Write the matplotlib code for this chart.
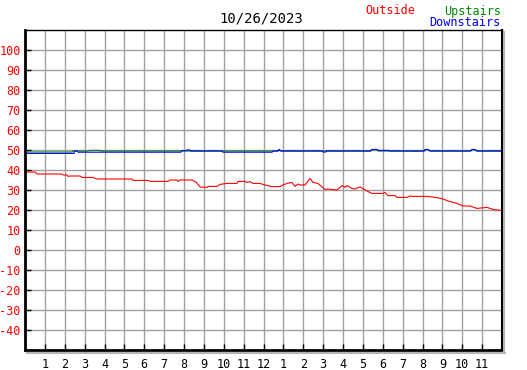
import numpy as np
import matplotlib
matplotlib.use("Agg")
import matplotlib.pyplot as plt
from matplotlib.lines import Line2D

# readings for 10/26/2023, time in hours from midnight
outside_t = [0.00, 0.50, 0.60, 1.86, 1.91, 2.11, 2.16, 2.26, 2.77, 2.87, 3.42, 3.62, 5.38, 5.43,
             6.19, 6.29, 7.19, 7.30, 7.65, 7.70, 7.80, 8.40, 8.60, 8.81, 9.16, 9.21, 9.66, 9.81,
             10.16, 10.67, 10.72, 11.07, 11.17, 11.32, 11.47, 11.82, 12.08, 12.43, 12.83, 12.98,
             13.18, 13.43, 13.58, 13.74, 13.84, 14.09, 14.34, 14.49, 14.74, 15.09, 15.25, 15.70,
             15.95, 16.10, 16.20, 16.45, 16.60, 16.86, 17.21, 17.46, 18.01, 18.11, 18.26, 18.62,
             18.72, 19.22, 19.37, 19.52, 20.23, 20.73, 21.03, 21.38, 21.74, 22.04, 22.39, 22.74,
             23.25, 23.55, 24.00]
outside_v = [39.0, 39.0, 38.0, 38.0, 37.5, 37.5, 36.8, 37.0, 37.0, 36.3, 36.3, 35.5, 35.5, 34.8,
             34.8, 34.3, 34.3, 35.0, 35.0, 34.3, 35.0, 35.0, 34.0, 31.5, 31.3, 31.8, 31.8, 32.8,
             33.3, 33.3, 34.3, 34.3, 33.8, 34.2, 33.3, 33.3, 32.5, 31.7, 31.7, 32.5,
             33.3, 33.8, 31.8, 33.0, 32.5, 32.5, 35.8, 33.8, 33.3, 30.3, 30.5, 30.0,
             32.2, 31.3, 32.2, 30.8, 30.5, 31.5, 29.5, 28.3, 28.3, 28.8, 27.2, 27.2,
             26.3, 26.3, 27.0, 26.8, 26.8, 26.2, 25.5, 24.2, 23.3, 22.0, 22.0, 20.8,
             21.3, 20.3, 19.7]

upstairs_t = [0.00, 2.36, 2.42, 3.17, 3.22, 3.77, 3.82, 12.73, 12.78, 12.88, 17.41, 17.46, 17.71,
              17.76, 20.08, 20.13, 20.28, 20.38, 22.44, 22.49, 22.64, 22.74, 24.00]
upstairs_v = [49.0, 49.0, 49.5, 49.5, 49.8, 49.8, 49.5, 49.5, 50.3, 49.5, 49.5, 50.3, 50.3,
              49.5, 49.5, 50.3, 50.3, 49.5, 49.5, 50.3, 50.3, 49.5, 49.5]

downstairs_t = [0.00, 2.47, 2.49, 2.62, 2.67, 7.85, 7.90, 8.10, 8.15, 8.30, 8.35, 9.91, 9.96,
                10.06, 12.43, 12.48, 12.73, 12.78, 12.88, 14.94, 14.99, 15.14, 15.19, 17.36,
                17.46, 17.71, 17.76, 18.26, 18.36, 19.62, 19.67, 19.72, 20.08, 20.13, 20.28,
                20.38, 22.39, 22.49, 22.64, 22.74, 24.00]
downstairs_v = [48.3, 48.3, 49.5, 49.5, 48.9, 48.9, 49.7, 49.7, 50.0, 50.0, 49.5, 49.5, 48.9,
                48.9, 48.9, 49.5, 49.5, 50.2, 49.5, 49.5, 49.0, 49.0, 49.5, 49.5,
                50.2, 50.2, 49.8, 49.8, 49.5, 49.5, 49.2, 49.5, 49.5, 50.2, 50.2,
                49.5, 49.5, 50.2, 50.2, 49.5, 49.5]

hour_ticks = list(range(1, 24))
hour_labels = [str(h) for h in list(range(1, 13)) + list(range(1, 12))]
temp_ticks = list(range(-40, 101, 10))

plt.rcParams['font.family'] = ['DejaVu Sans Mono']

fig = plt.figure(figsize=(5.27, 3.70), dpi=100)
ax = fig.add_axes([25 / 527, 1 - 350 / 370, 477 / 527, 320 / 370])

ax.plot(upstairs_t, upstairs_v, color="#008800", lw=0.8)
ax.plot(downstairs_t, downstairs_v, color="#0000ff", lw=0.8)
ax.plot(outside_t, outside_v, color="#ff0000", lw=0.8)

ax.set_xlim(0, 24)
ax.set_ylim(-50, 110)
ax.set_xticks(hour_ticks)
ax.set_xticklabels(hour_labels)
ax.set_yticks(temp_ticks)
ax.set_yticklabels([str(t) for t in temp_ticks])
ax.grid(True, color="#a0a0a0", lw=1)
ax.set_axisbelow(True)
ax.tick_params(axis="both", direction="in", length=4, width=1, color="black", labelsize=8.5)
ax.tick_params(axis="y", labelcolor="#ff0000", pad=3)
ax.tick_params(axis="x", pad=6)

ax.spines["left"].set_linewidth(2)
ax.spines["bottom"].set_linewidth(2)
ax.spines["right"].set_linewidth(1.5)
ax.spines["top"].set_linewidth(1.0)

# drop shadow on right and bottom edges
fig.add_artist(Line2D([504 / 527, 504 / 527], [1 - 352 / 370, 1 - 32 / 370],
                      color="#b4b4b4", lw=1.5, transform=fig.transFigure))
fig.add_artist(Line2D([27 / 527, 505 / 527], [1 - 352.5 / 370, 1 - 352.5 / 370],
                      color="#b4b4b4", lw=1.5, transform=fig.transFigure))

fig.text(261 / 527, 1 - 19 / 370, "10/26/2023", ha="center", va="center", fontsize=10)
fig.text(390 / 527, 1 - 11 / 370, "Outside", ha="center", va="center", fontsize=8.5, color="#ff0000")
fig.text(501 / 527, 1 - 11 / 370, "Upstairs", ha="right", va="center", fontsize=8.5, color="#008800")
fig.text(501 / 527, 1 - 23 / 370, "Downstairs", ha="right", va="center", fontsize=8.5, color="#0000ff")

fig.savefig("out.png", dpi=100)
